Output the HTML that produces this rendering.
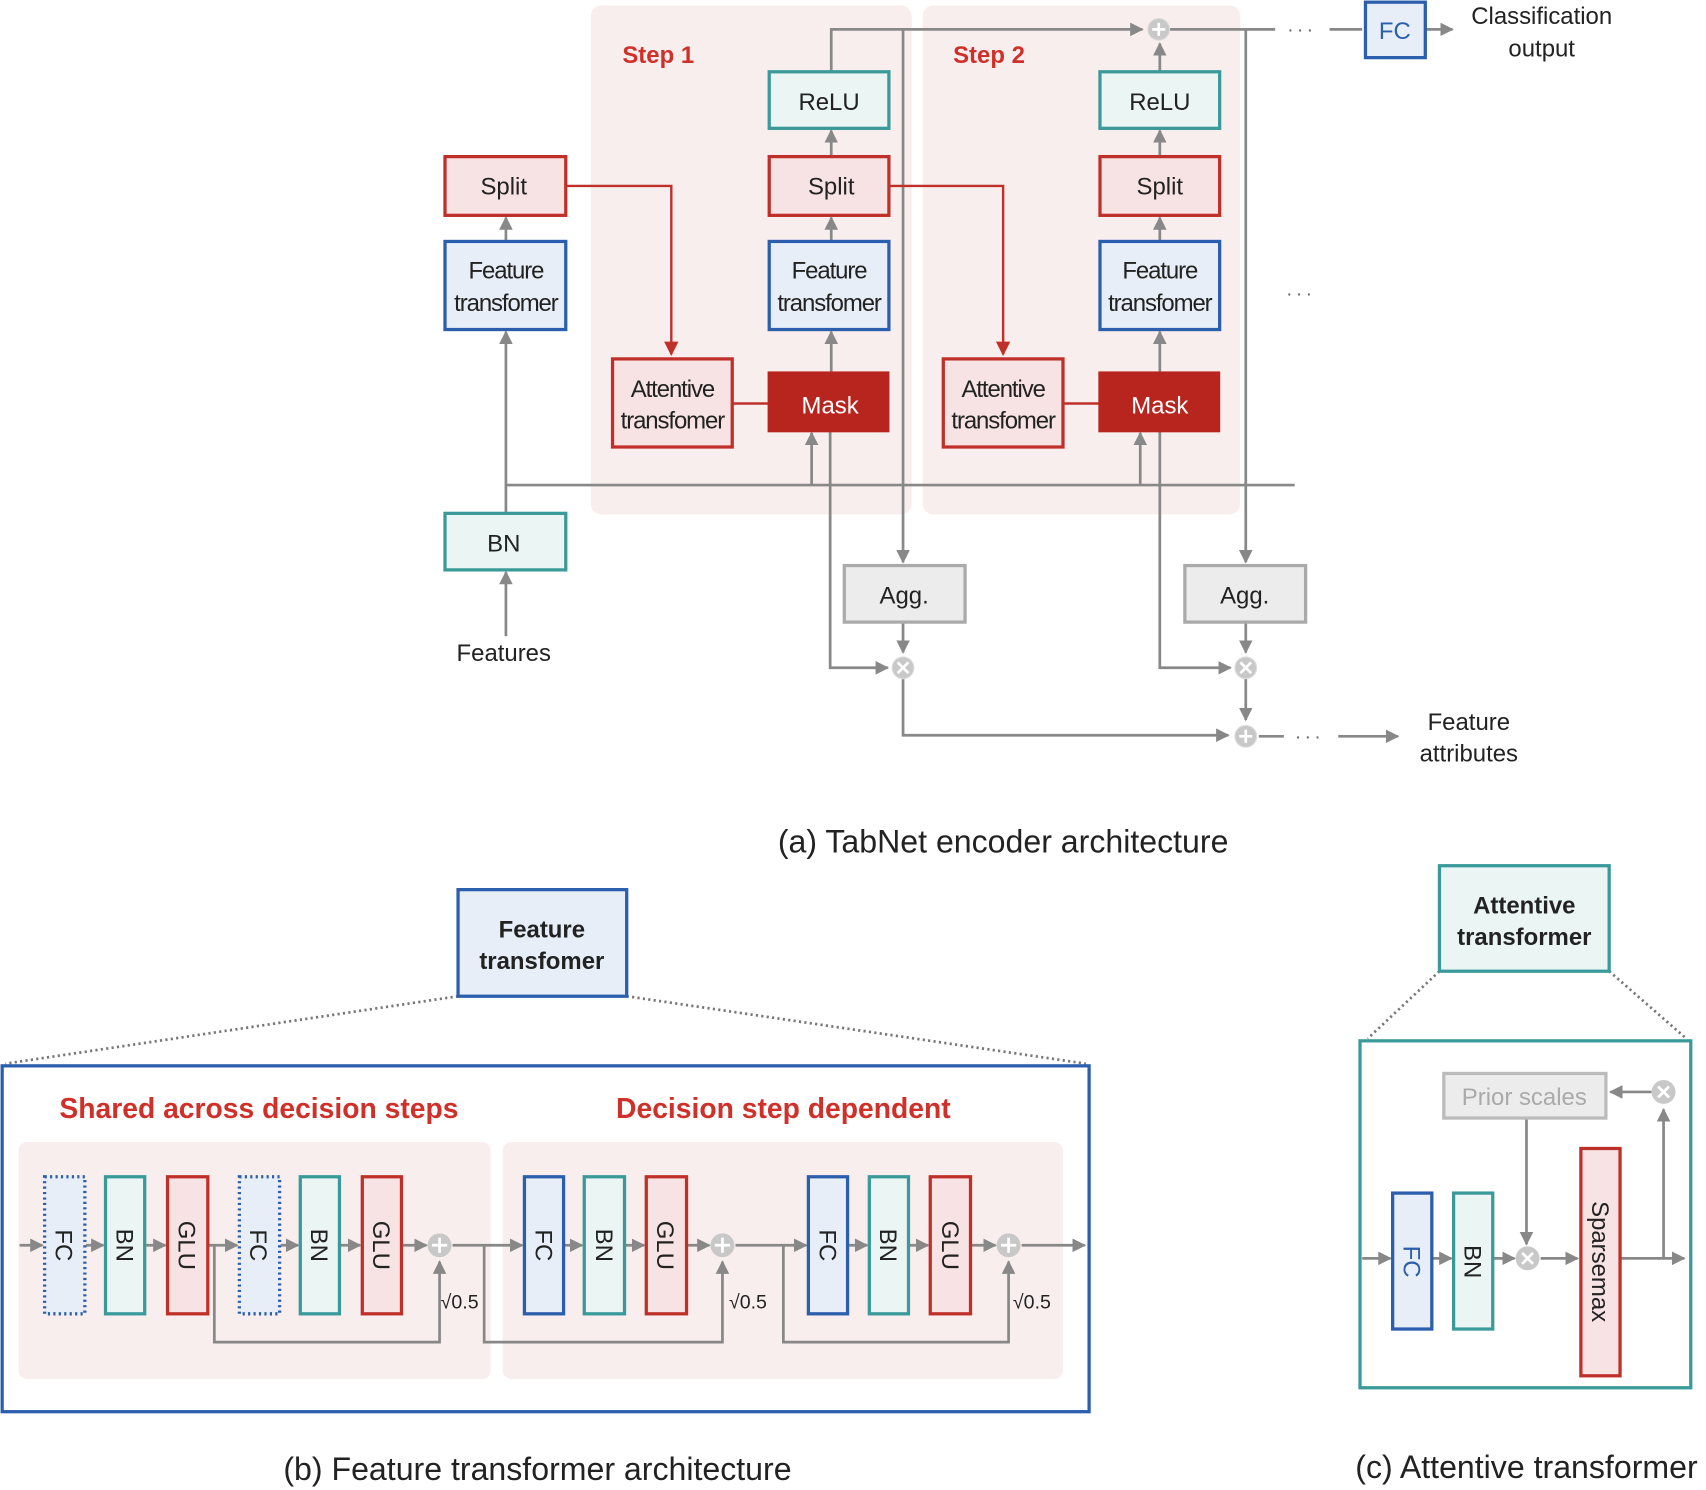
<!DOCTYPE html>
<html><head><meta charset="utf-8"><style>
html,body{margin:0;padding:0;background:#fff}
svg{display:block}
text{font-family:"Liberation Sans",sans-serif}
</style></head><body>
<svg width="1706" height="1490" viewBox="0 0 1568 1370" preserveAspectRatio="none" xmlns="http://www.w3.org/2000/svg">
<defs>
<marker id="a" viewBox="0 0 10 10" refX="9" refY="5" markerWidth="5" markerHeight="5" orient="auto" markerUnits="strokeWidth"><path d="M0,0L10,5L0,10z" fill="#888"/></marker>
<marker id="r" viewBox="0 0 10 10" refX="9" refY="5" markerWidth="6" markerHeight="6" orient="auto" markerUnits="strokeWidth"><path d="M0,0L10,5L0,10z" fill="#c0302a"/></marker>
</defs>
<rect x="543" y="5" width="295" height="468" rx="10" fill="#f9eeee"/>
<rect x="848" y="5" width="292" height="468" rx="10" fill="#f9eeee"/>
<text x="572" y="58" font-size="22" font-weight="bold" fill="#d0302a">Step 1</text>
<text x="876" y="58" font-size="22" font-weight="bold" fill="#d0302a">Step 2</text>

<g stroke="#888" stroke-width="2.5" fill="none">
<polyline points="764,66 764,27 1050,27" marker-end="url(#a)"/>
<line x1="1075" y1="27" x2="1172" y2="27"/>
<line x1="1222" y1="27" x2="1252" y2="27"/>
<line x1="1311" y1="27" x2="1335" y2="27" marker-end="url(#a)"/>
<line x1="1066" y1="66" x2="1066" y2="40" marker-end="url(#a)"/>
<line x1="830" y1="27" x2="830" y2="517" marker-end="url(#a)"/>
<line x1="1145" y1="27" x2="1145" y2="517" marker-end="url(#a)"/>
<line x1="764" y1="144" x2="764" y2="120" marker-end="url(#a)"/>
<line x1="764" y1="222" x2="764" y2="200" marker-end="url(#a)"/>
<line x1="764" y1="343" x2="764" y2="305" marker-end="url(#a)"/>
<line x1="1066" y1="144" x2="1066" y2="120" marker-end="url(#a)"/>
<line x1="1066" y1="222" x2="1066" y2="200" marker-end="url(#a)"/>
<line x1="1066" y1="343" x2="1066" y2="305" marker-end="url(#a)"/>
<line x1="465" y1="222" x2="465" y2="200" marker-end="url(#a)"/>
<line x1="465" y1="472" x2="465" y2="305" marker-end="url(#a)"/>
<line x1="465" y1="585" x2="465" y2="526" marker-end="url(#a)"/>
<line x1="465" y1="446" x2="1190" y2="446"/>
<line x1="746" y1="446" x2="746" y2="398" marker-end="url(#a)"/>
<line x1="1048" y1="446" x2="1048" y2="398" marker-end="url(#a)"/>
<polyline points="763,396 763,614 816,614" marker-end="url(#a)"/>
<polyline points="1066,396 1066,614 1131,614" marker-end="url(#a)"/>
<line x1="830" y1="572" x2="830" y2="600" marker-end="url(#a)"/>
<line x1="1145" y1="572" x2="1145" y2="600" marker-end="url(#a)"/>
<polyline points="830,624 830,676 1129,676" marker-end="url(#a)"/>
<line x1="1145" y1="624" x2="1145" y2="662" marker-end="url(#a)"/>
<line x1="1157" y1="677" x2="1180" y2="677"/>
<line x1="1230" y1="677" x2="1285" y2="677" marker-end="url(#a)"/>
</g>
<g stroke="#c0302a" stroke-width="2.2" fill="none">
<polyline points="520,171 617,171 617,326" marker-end="url(#r)"/>
<polyline points="817,171 922,171 922,326" marker-end="url(#r)"/>
<line x1="673" y1="371" x2="707" y2="371"/>
<line x1="977" y1="371" x2="1011" y2="371"/>
</g>
<g fill="#c8c8c8" stroke="#ddd" stroke-width="1">
<circle cx="1065" cy="27" r="10"/><circle cx="830" cy="614" r="10"/><circle cx="1145" cy="614" r="10"/><circle cx="1145" cy="677" r="10"/>
</g>
<g stroke="#fff" stroke-width="2.5">
<path d="M1059,27h12M1065,21v12"/><path d="M1139,677h12M1145,671v12"/>
<path d="M825,609l10,10M835,609l-10,10"/><path d="M1140,609l10,10M1150,609l-10,10"/>
</g>
<text x="1183" y="33" font-size="18" fill="#666" letter-spacing="3">···</text>
<text x="1182" y="276" font-size="18" fill="#666" letter-spacing="3">···</text>
<text x="1190" y="683" font-size="18" fill="#666" letter-spacing="3">···</text>

<g stroke-width="3" font-size="22" text-anchor="middle">
<rect x="707" y="66" width="110" height="52" fill="#eaf5f4" stroke="#3a9a9a"/><text x="762" y="101" stroke="none" fill="#222">ReLU</text>
<rect x="1011" y="66" width="110" height="52" fill="#eaf5f4" stroke="#3a9a9a"/><text x="1066" y="101" stroke="none" fill="#222">ReLU</text>
<rect x="409" y="144" width="111" height="54" fill="#f7e3e3" stroke="#c0302a"/><text x="463" y="179" stroke="none" fill="#222">Split</text>
<rect x="707" y="144" width="110" height="54" fill="#f7e3e3" stroke="#c0302a"/><text x="764" y="179" stroke="none" fill="#222">Split</text>
<rect x="1011" y="144" width="110" height="54" fill="#f7e3e3" stroke="#c0302a"/><text x="1066" y="179" stroke="none" fill="#222">Split</text>
<rect x="409" y="222" width="111" height="81" fill="#e7eef7" stroke="#2b5fad"/><text x="465" y="256" stroke="none" fill="#222" letter-spacing="-1">Feature</text><text x="465" y="286" stroke="none" fill="#222" letter-spacing="-1">transfomer</text>
<rect x="707" y="222" width="110" height="81" fill="#e7eef7" stroke="#2b5fad"/><text x="762" y="256" stroke="none" fill="#222" letter-spacing="-1">Feature</text><text x="762" y="286" stroke="none" fill="#222" letter-spacing="-1">transfomer</text>
<rect x="1011" y="222" width="110" height="81" fill="#e7eef7" stroke="#2b5fad"/><text x="1066" y="256" stroke="none" fill="#222" letter-spacing="-1">Feature</text><text x="1066" y="286" stroke="none" fill="#222" letter-spacing="-1">transfomer</text>
<rect x="563" y="330" width="110" height="81" fill="#f7e3e3" stroke="#c0302a"/><text x="618" y="365" stroke="none" fill="#222" letter-spacing="-1">Attentive</text><text x="618" y="394" stroke="none" fill="#222" letter-spacing="-1">transfomer</text>
<rect x="867" y="330" width="110" height="81" fill="#f7e3e3" stroke="#c0302a"/><text x="922" y="365" stroke="none" fill="#222" letter-spacing="-1">Attentive</text><text x="922" y="394" stroke="none" fill="#222" letter-spacing="-1">transfomer</text>
<rect x="707" y="343" width="109" height="53" fill="#b8251e" stroke="#b8251e"/><text x="763" y="380" stroke="none" fill="#fff">Mask</text>
<rect x="1011" y="343" width="109" height="53" fill="#b8251e" stroke="#b8251e"/><text x="1066" y="380" stroke="none" fill="#fff">Mask</text>
<rect x="409" y="472" width="111" height="52" fill="#eaf5f4" stroke="#3a9a9a"/><text x="463" y="507" stroke="none" fill="#222">BN</text>
<rect x="776" y="520" width="111" height="52" fill="#ececec" stroke="#aaa"/><text x="831" y="555" stroke="none" fill="#222">Agg.</text>
<rect x="1089" y="520" width="111" height="52" fill="#ececec" stroke="#aaa"/><text x="1144" y="555" stroke="none" fill="#222">Agg.</text>
<rect x="1255" y="2" width="55" height="51" fill="#e7eef7" stroke="#2b5fad"/><text x="1282" y="36" stroke="none" fill="#2b5fad">FC</text>
<text x="463" y="608" stroke="none" fill="#222">Features</text>
<text x="1417" y="22" stroke="none" fill="#222">Classification</text>
<text x="1417" y="52" stroke="none" fill="#222">output</text>
<text x="1350" y="671" stroke="none" fill="#222">Feature</text>
<text x="1350" y="700" stroke="none" fill="#222">attributes</text>
</g>
<text x="922" y="784" font-size="29.5" text-anchor="middle" fill="#222">(a) TabNet encoder architecture</text>

<g stroke="#777" stroke-width="2.5" stroke-dasharray="2,3" fill="none">
<line x1="421" y1="916" x2="5" y2="978"/><line x1="576" y1="916" x2="998" y2="978"/>
<line x1="1323" y1="893" x2="1257" y2="955"/><line x1="1479" y1="893" x2="1550" y2="955"/>
</g>
<rect x="421" y="818" width="155" height="98" fill="#e7eef7" stroke="#2b5fad" stroke-width="3"/>
<text x="498" y="862" font-size="22" font-weight="bold" text-anchor="middle" fill="#222">Feature</text>
<text x="498" y="891" font-size="22" font-weight="bold" text-anchor="middle" fill="#222">transfomer</text>
<rect x="2" y="980" width="999" height="318" fill="#fff" stroke="#2b5fad" stroke-width="3"/>
<text x="238" y="1028" font-size="26" font-weight="bold" text-anchor="middle" fill="#d0302a">Shared across decision steps</text>
<text x="720" y="1028" font-size="26" font-weight="bold" text-anchor="middle" fill="#d0302a">Decision step dependent</text>
<rect x="17" y="1050" width="434" height="218" rx="8" fill="#f9eeee"/>
<rect x="462" y="1050" width="515" height="218" rx="8" fill="#f9eeee"/>
<g stroke="#888" stroke-width="2.5" fill="none">
<line x1="18" y1="1145" x2="39" y2="1145" marker-end="url(#a)"/>
<line x1="79" y1="1145" x2="95" y2="1145" marker-end="url(#a)"/>
<line x1="134" y1="1145" x2="152" y2="1145" marker-end="url(#a)"/>
<line x1="192" y1="1145" x2="218" y2="1145" marker-end="url(#a)"/>
<line x1="258" y1="1145" x2="274" y2="1145" marker-end="url(#a)"/>
<line x1="313" y1="1145" x2="331" y2="1145" marker-end="url(#a)"/>
<line x1="370" y1="1145" x2="392" y2="1145" marker-end="url(#a)"/>
<line x1="416" y1="1145" x2="480" y2="1145" marker-end="url(#a)"/>
<line x1="519" y1="1145" x2="535" y2="1145" marker-end="url(#a)"/>
<line x1="575" y1="1145" x2="592" y2="1145" marker-end="url(#a)"/>
<line x1="632" y1="1145" x2="652" y2="1145" marker-end="url(#a)"/>
<line x1="676" y1="1145" x2="741" y2="1145" marker-end="url(#a)"/>
<line x1="780" y1="1145" x2="797" y2="1145" marker-end="url(#a)"/>
<line x1="836" y1="1145" x2="853" y2="1145" marker-end="url(#a)"/>
<line x1="893" y1="1145" x2="915" y2="1145" marker-end="url(#a)"/>
<line x1="939" y1="1145" x2="997" y2="1145" marker-end="url(#a)"/>
<polyline points="197,1145 197,1234 404,1234 404,1160" marker-end="url(#a)"/>
<polyline points="445,1145 445,1234 664,1234 664,1160" marker-end="url(#a)"/>
<polyline points="720,1145 720,1234 927,1234 927,1160" marker-end="url(#a)"/>
</g>
<g fill="#c8c8c8"><circle cx="404" cy="1145" r="11"/><circle cx="664" cy="1145" r="11"/><circle cx="927" cy="1145" r="11"/></g>
<g stroke="#fff" stroke-width="2.5"><path d="M397,1145h14M404,1138v14"/><path d="M657,1145h14M664,1138v14"/><path d="M920,1145h14M927,1138v14"/></g>
<g font-size="18" fill="#222">
<text x="405" y="1203">√0.5</text><text x="670" y="1203">√0.5</text><text x="931" y="1203">√0.5</text>
</g>
<g stroke-width="3">
<rect x="41" y="1082" width="37" height="126" fill="#e7eef7" stroke="#2b5fad" stroke-dasharray="2,3"/>
<rect x="97" y="1082" width="36" height="126" fill="#eaf5f4" stroke="#3a9a9a"/>
<rect x="154" y="1082" width="37" height="126" fill="#f7e3e3" stroke="#c0302a"/>
<rect x="220" y="1082" width="37" height="126" fill="#e7eef7" stroke="#2b5fad" stroke-dasharray="2,3"/>
<rect x="276" y="1082" width="36" height="126" fill="#eaf5f4" stroke="#3a9a9a"/>
<rect x="333" y="1082" width="36" height="126" fill="#f7e3e3" stroke="#c0302a"/>
<rect x="482" y="1082" width="36" height="126" fill="#e7eef7" stroke="#2b5fad"/>
<rect x="537" y="1082" width="37" height="126" fill="#eaf5f4" stroke="#3a9a9a"/>
<rect x="594" y="1082" width="37" height="126" fill="#f7e3e3" stroke="#c0302a"/>
<rect x="743" y="1082" width="36" height="126" fill="#e7eef7" stroke="#2b5fad"/>
<rect x="799" y="1082" width="36" height="126" fill="#eaf5f4" stroke="#3a9a9a"/>
<rect x="855" y="1082" width="37" height="126" fill="#f7e3e3" stroke="#c0302a"/>
</g>
<g font-size="22" fill="#222" text-anchor="middle">
<text transform="translate(51,1145) rotate(90)">FC</text>
<text transform="translate(107,1145) rotate(90)">BN</text>
<text transform="translate(164,1145) rotate(90)">GLU</text>
<text transform="translate(230,1145) rotate(90)">FC</text>
<text transform="translate(286,1145) rotate(90)">BN</text>
<text transform="translate(343,1145) rotate(90)">GLU</text>
<text transform="translate(492,1145) rotate(90)">FC</text>
<text transform="translate(548,1145) rotate(90)">BN</text>
<text transform="translate(604,1145) rotate(90)">GLU</text>
<text transform="translate(753,1145) rotate(90)">FC</text>
<text transform="translate(809,1145) rotate(90)">BN</text>
<text transform="translate(866,1145) rotate(90)">GLU</text>
</g>
<text x="494" y="1361" font-size="29.5" text-anchor="middle" fill="#222">(b) Feature transformer architecture</text>

<rect x="1323" y="796" width="156" height="97" fill="#eaf5f4" stroke="#3a9a9a" stroke-width="3"/>
<text x="1401" y="840" font-size="22" font-weight="bold" text-anchor="middle" fill="#222">Attentive</text>
<text x="1401" y="869" font-size="22" font-weight="bold" text-anchor="middle" fill="#222">transformer</text>
<rect x="1250" y="957" width="304" height="319" fill="#fff" stroke="#3a9a9a" stroke-width="3"/>
<g stroke="#888" stroke-width="2.5" fill="none">
<line x1="1252" y1="1157" x2="1278" y2="1157" marker-end="url(#a)"/>
<line x1="1317" y1="1157" x2="1334" y2="1157" marker-end="url(#a)"/>
<line x1="1373" y1="1157" x2="1392" y2="1157" marker-end="url(#a)"/>
<line x1="1416" y1="1157" x2="1450" y2="1157" marker-end="url(#a)"/>
<line x1="1490" y1="1157" x2="1548" y2="1157" marker-end="url(#a)"/>
<line x1="1529" y1="1157" x2="1529" y2="1020" marker-end="url(#a)"/>
<line x1="1518" y1="1004" x2="1480" y2="1004" marker-end="url(#a)"/>
<line x1="1403" y1="1029" x2="1403" y2="1144" marker-end="url(#a)"/>
</g>
<g fill="#c8c8c8"><circle cx="1404" cy="1157" r="11"/><circle cx="1529" cy="1004" r="11"/></g>
<g stroke="#fff" stroke-width="2.5"><path d="M1399,1152l10,10M1409,1152l-10,10"/><path d="M1524,999l10,10M1534,999l-10,10"/></g>
<rect x="1327" y="987" width="149" height="41" fill="#ececec" stroke="#bbb" stroke-width="3"/>
<text x="1401" y="1016" font-size="22" text-anchor="middle" fill="#aaa">Prior scales</text>
<rect x="1280" y="1097" width="36" height="125" fill="#e7eef7" stroke="#2b5fad" stroke-width="3"/>
<rect x="1336" y="1097" width="36" height="125" fill="#eaf5f4" stroke="#3a9a9a" stroke-width="3"/>
<rect x="1453" y="1056" width="36" height="209" fill="#f7e3e3" stroke="#c0302a" stroke-width="3"/>
<g font-size="22" text-anchor="middle">
<text transform="translate(1290,1160) rotate(90)" fill="#2b5fad">FC</text>
<text transform="translate(1346,1160) rotate(90)" fill="#222">BN</text>
<text transform="translate(1463,1160) rotate(90)" fill="#222">Sparsemax</text>
</g>
<text x="1403" y="1359" font-size="29.5" text-anchor="middle" fill="#222">(c) Attentive transformer</text>
</svg>
</body></html>
